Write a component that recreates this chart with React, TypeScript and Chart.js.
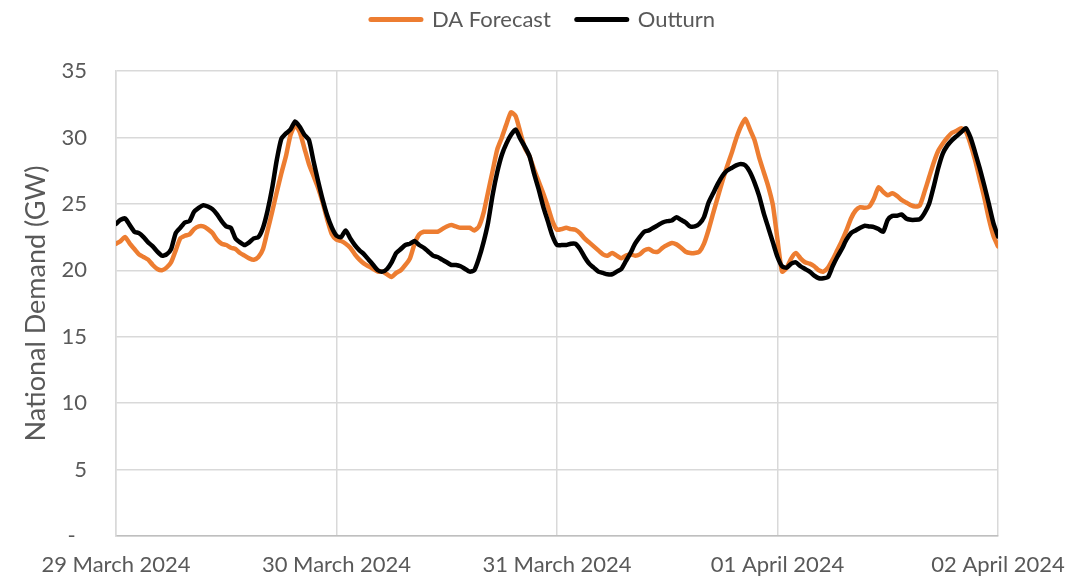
import React, { useEffect, useRef } from 'react';
import { Chart, registerables } from 'chart.js';

Chart.register(...registerables);

// X-axis day labels (one every 48 half-hour periods)
const dateLabels = ['29 March 2024', '30 March 2024', '31 March 2024', '01 April 2024', '02 April 2024'];
const periodsPerDay = 48;

// Half-hourly national demand (GW), 29 Mar 00:00 .. 02 Apr 00:00
const daForecast = [
  // 29 March
  22.0, 22.2, 22.5, 22.0, 21.6, 21.2, 21.0, 20.8, 20.4, 20.1, 20.0, 20.2,
  20.6, 21.5, 22.4, 22.6, 22.7, 23.1, 23.3, 23.3, 23.1, 22.8, 22.3, 22.0,
  21.9, 21.7, 21.6, 21.3, 21.1, 20.9, 20.8, 21.0, 21.6, 23.0, 24.4, 25.9,
  27.3, 28.6, 30.2, 30.9, 30.4, 29.2, 28.0, 27.1, 26.2, 25.1, 23.8, 22.7,
  // 30 March
  22.3, 22.2, 22.0, 21.7, 21.2, 20.8, 20.5, 20.3, 20.1, 19.9, 19.9, 19.7,
  19.5, 19.8, 20.0, 20.4, 20.9, 22.0, 22.7, 22.9, 22.9, 22.9, 22.9, 23.1,
  23.3, 23.4, 23.3, 23.2, 23.2, 23.2, 23.0, 23.3, 24.3, 25.9, 27.5, 29.1,
  30.0, 31.0, 31.9, 31.6, 30.4, 29.2, 28.6, 27.6, 26.7, 25.8, 24.8, 23.7,
  // 31 March
  23.05, 23.1, 23.2, 23.1, 23.05, 22.8, 22.4, 22.1, 21.8, 21.5, 21.2, 21.1,
  21.3, 21.1, 20.9, 21.1, 21.2, 21.1, 21.2, 21.5, 21.6, 21.4, 21.4, 21.7,
  21.9, 22.05, 21.95, 21.7, 21.4, 21.3, 21.3, 21.4, 22.0, 23.05, 24.3, 25.5,
  26.7, 27.8, 28.8, 29.9, 30.8, 31.4, 30.6, 29.8, 28.5, 27.4, 26.3, 24.9,
  // 01 April
  22.3, 19.9, 20.2, 20.9, 21.3, 20.9, 20.6, 20.5, 20.3, 20.0, 19.9, 20.2,
  20.8, 21.5, 22.2, 23.0, 23.9, 24.5, 24.75, 24.7, 24.8, 25.4, 26.25, 25.9,
  25.65, 25.8, 25.6, 25.3, 25.1, 24.9, 24.8, 24.9, 25.9, 27.0, 28.1, 29.0,
  29.55, 30.0, 30.35, 30.5, 30.7, 30.45, 29.5, 28.3, 26.9, 25.5, 23.9, 22.6,
  // 02 April 00:00
  21.8,
];

const outturn = [
  // 29 March
  23.5, 23.8, 23.9, 23.4, 22.9, 22.8, 22.5, 22.1, 21.8, 21.4, 21.1, 21.2,
  21.6, 22.8, 23.2, 23.6, 23.7, 24.4, 24.7, 24.9, 24.8, 24.6, 24.2, 23.7,
  23.3, 23.2, 22.4, 22.1, 21.9, 22.1, 22.4, 22.5, 23.2, 24.5, 26.2, 28.3,
  29.9, 30.3, 30.6, 31.2, 30.8, 30.2, 29.8, 28.2, 26.7, 25.3, 24.1, 23.2,
  // 30 March
  22.6, 22.5, 23.0, 22.4, 21.9, 21.5, 21.2, 20.8, 20.4, 20.0, 19.9, 20.1,
  20.6, 21.3, 21.6, 21.9, 22.0, 22.2, 21.9, 21.7, 21.4, 21.1, 21.0, 20.8,
  20.6, 20.4, 20.4, 20.3, 20.1, 19.9, 20.0, 20.9, 22.1, 23.6, 25.7, 27.4,
  28.7, 29.55, 30.2, 30.6, 29.9, 29.3, 28.6, 27.3, 26.1, 24.8, 23.7, 22.6,
  // 31 March
  21.9, 21.9, 21.9, 22.0, 22.0, 21.6, 21.0, 20.5, 20.2, 19.9, 19.8, 19.7,
  19.7, 19.9, 20.1, 20.7, 21.3, 22.0, 22.5, 22.9, 23.0, 23.2, 23.4, 23.6,
  23.7, 23.75, 24.0, 23.8, 23.6, 23.3, 23.3, 23.5, 24.0, 25.1, 25.8, 26.5,
  27.1, 27.5, 27.7, 27.9, 28.0, 27.9, 27.4, 26.6, 25.6, 24.3, 23.2, 22.1,
  // 01 April
  21.0, 20.3, 20.2, 20.5, 20.6, 20.3, 20.1, 19.9, 19.6, 19.4, 19.4, 19.5,
  20.3, 21.0, 21.6, 22.3, 22.8, 23.0, 23.2, 23.35, 23.3, 23.25, 23.1, 22.9,
  23.8, 24.1, 24.1, 24.2, 23.9, 23.8, 23.8, 23.85, 24.3, 25.0, 26.3, 27.7,
  28.8, 29.4, 29.8, 30.1, 30.4, 30.7, 30.0, 28.9, 27.7, 26.4, 25.0, 23.55,
  // 02 April 00:00
  22.55,
];

const seriesNames = ['DA Forecast', 'Outturn'];
const seriesColors = ['#ED7D31', '#000000'];

export default function App() {
  const canvasRef = useRef<HTMLCanvasElement>(null);

  useEffect(() => {
    if (!canvasRef.current) return;
    Chart.defaults.font.family = 'Lato';

    const LEGEND_H = 88.5;
    const legendFix = {
      id: 'legendFix',
      beforeLayout(chart: any) {
        const lg = chart.legend;
        if (lg && !lg.__patched) {
          const orig = lg.fit.bind(lg);
          lg.fit = function () {
            orig();
            this.height = LEGEND_H;
          };
          lg.__patched = true;
        }
      },
    };

    const toPoints = (arr: number[]) => arr.map((y, i) => ({ x: i, y }));

    const chart = new Chart(canvasRef.current, {
      type: 'line',
      data: {
        datasets: [
          {
            label: seriesNames[0],
            data: toPoints(daForecast),
            borderColor: seriesColors[0],
            backgroundColor: seriesColors[0],
            borderWidth: 4.5,
            pointRadius: 0,
            tension: 0.2,
            borderCapStyle: 'round',
            borderJoinStyle: 'round',
            order: 1,
          },
          {
            label: seriesNames[1],
            data: toPoints(outturn),
            borderColor: seriesColors[1],
            backgroundColor: seriesColors[1],
            borderWidth: 4.5,
            pointRadius: 0,
            tension: 0.2,
            borderCapStyle: 'round',
            borderJoinStyle: 'round',
            order: 0,
          },
        ],
      },
      options: {
        responsive: false,
        animation: false,
        layout: { padding: { top: -17.5, left: 0, right: 0, bottom: 0 } },
        plugins: {
          tooltip: { enabled: false },
          legend: {
            position: 'top',
            align: 'center',
            labels: {
              usePointStyle: true,
              pointStyleWidth: 50,
              padding: 26,
              color: '#595959',
              font: { size: 22, family: 'Lato' },
              generateLabels: (c: any) =>
                c.data.datasets.map((ds: any, i: number) => ({
                  text: ds.label,
                  fillStyle: ds.borderColor,
                  strokeStyle: ds.borderColor,
                  lineWidth: 5,
                  lineCap: 'round',
                  pointStyle: 'line',
                  hidden: false,
                  datasetIndex: i,
                  fontColor: '#595959',
                })),
            },
          },
        },
        scales: {
          x: {
            type: 'linear',
            min: 0,
            max: periodsPerDay * (dateLabels.length - 1),
            ticks: {
              stepSize: periodsPerDay,
              autoSkip: false,
              maxRotation: 0,
              color: '#595959',
              font: { size: 22 },
              padding: 16,
              callback: (v: any) => dateLabels[Math.round(Number(v) / periodsPerDay)] ?? '',
            },
            grid: { color: '#d9d9d9', lineWidth: 1.5, drawTicks: false },
            border: { color: '#bfbfbf', width: 1.5 },
            afterFit: (s: any) => {
              s.height = 44;
              s.paddingLeft = 0;
              s.paddingRight = 88;
            },
          },
          y: {
            min: 0,
            max: 35,
            ticks: {
              stepSize: 5,
              color: '#595959',
              font: { size: 22 },
              padding: 29,
              callback: (v: any) => (Number(v) === 0 ? '-  ' : String(v)),
            },
            grid: { color: '#d9d9d9', lineWidth: 1.5, drawTicks: false },
            border: { color: '#d9d9d9', width: 1.5 },
            title: {
              display: true,
              text: 'National Demand (GW)',
              color: '#595959',
              font: { size: 27 },
              padding: { top: 20, bottom: 0 },
            },
            afterFit: (s: any) => {
              s.width = 116;
              s.paddingTop = 0;
              s.paddingBottom = 0;
            },
          },
        },
      } as any,
      plugins: [legendFix],
    });

    return () => chart.destroy();
  }, []);

  return (
    <div style={{ position: 'absolute', left: 0, top: 0, width: 1086, height: 580, background: '#ffffff' }}>
      <canvas ref={canvasRef} width={1086} height={580} style={{ display: 'block' }} />
    </div>
  );
}
